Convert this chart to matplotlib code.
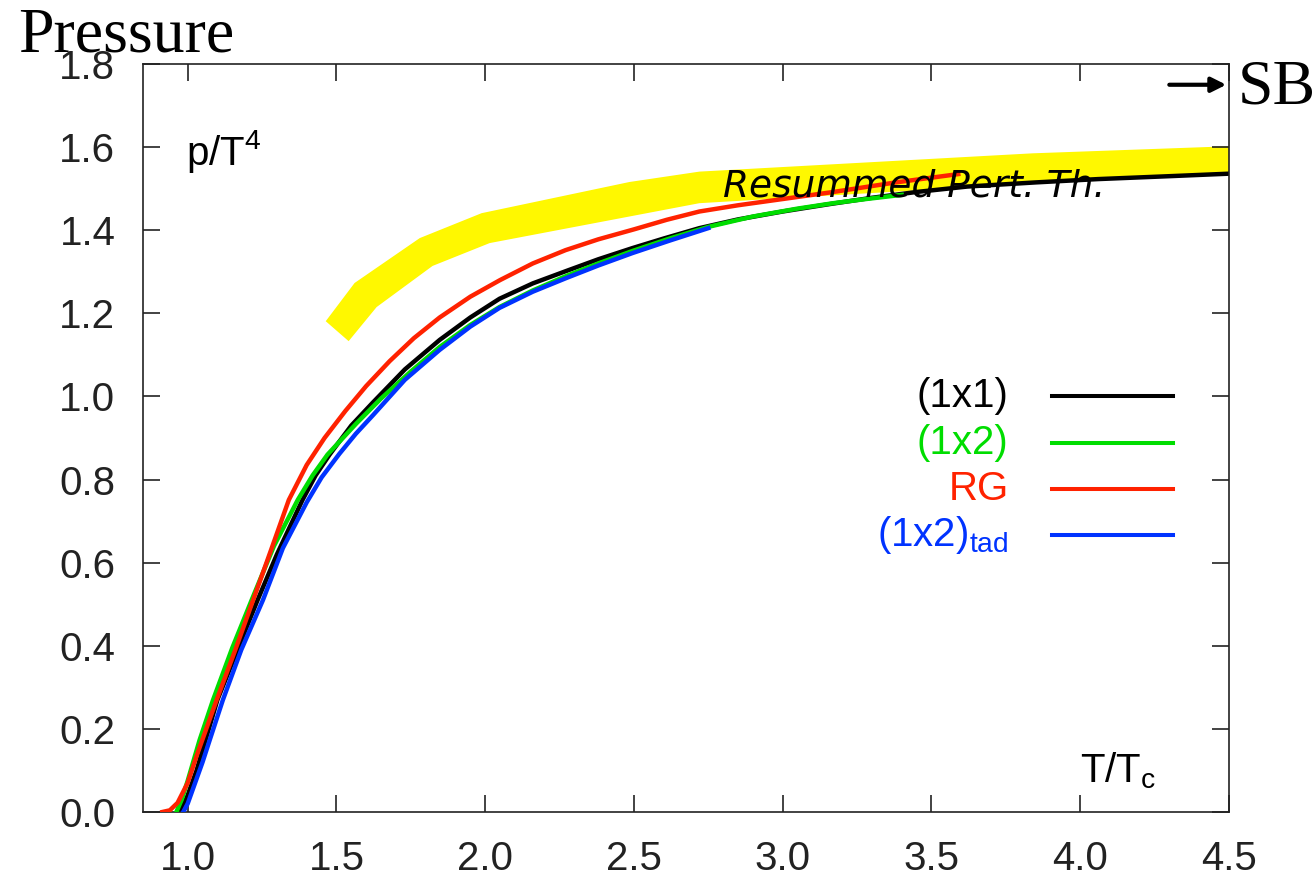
import numpy as np
import matplotlib
matplotlib.use('Agg')
import matplotlib.pyplot as plt

# (1x1)
t_11 = [0.975, 1.0, 1.03, 1.06, 1.10, 1.17, 1.235, 1.30, 1.386, 1.43, 1.477, 1.55, 1.622, 1.73,
        1.847, 1.95, 2.048, 2.16, 2.273, 2.38, 2.495, 2.6, 2.72, 2.85, 3.0, 3.15, 3.3, 3.45,
        3.62, 3.85, 4.06, 4.3, 4.5]
p_11 = [0.0, 0.04, 0.10, 0.173, 0.27, 0.395, 0.51, 0.62, 0.751, 0.81, 0.86, 0.93, 0.985, 1.065,
        1.136, 1.19, 1.235, 1.272, 1.302, 1.33, 1.357, 1.38, 1.405, 1.426, 1.445, 1.462, 1.478, 1.492,
        1.505, 1.515, 1.523, 1.53, 1.536]

# (1x2)
t_12 = [0.962, 0.98, 1.0, 1.04, 1.085, 1.15, 1.215, 1.29, 1.37, 1.42, 1.47, 1.567, 1.65, 1.75,
        1.847, 1.95, 2.048, 2.16, 2.273, 2.38, 2.495, 2.62, 2.75, 2.9, 3.05, 3.17, 3.28, 3.4]
p_12 = [0.0, 0.03, 0.075, 0.173, 0.269, 0.395, 0.51, 0.64, 0.751, 0.81, 0.86, 0.935, 0.995, 1.06,
        1.119, 1.172, 1.215, 1.255, 1.29, 1.32, 1.35, 1.38, 1.408, 1.433, 1.452, 1.465, 1.475, 1.485]

# RG
t_rg = [0.915, 0.94, 0.966, 1.0, 1.03, 1.097, 1.16, 1.22, 1.28, 1.34, 1.40, 1.46, 1.53, 1.60,
        1.679, 1.76, 1.847, 1.95, 2.05, 2.16, 2.27, 2.38, 2.5, 2.61, 2.72, 2.85, 3.0, 3.17, 3.38, 3.59]
p_rg = [0.0, 0.004, 0.022, 0.07, 0.135, 0.269, 0.39, 0.51, 0.63, 0.751, 0.835, 0.90, 0.965, 1.025,
        1.085, 1.14, 1.19, 1.24, 1.28, 1.32, 1.352, 1.378, 1.402, 1.425, 1.445, 1.46, 1.475, 1.492, 1.515, 1.535]

# (1x2)_tad
t_tad = [0.985, 1.0, 1.02, 1.05, 1.074, 1.118, 1.18, 1.253, 1.32, 1.40, 1.45, 1.51, 1.565, 1.623,
         1.73, 1.847, 1.95, 2.048, 2.16, 2.273, 2.38, 2.495, 2.62, 2.75]
p_tad = [0.0, 0.02, 0.06, 0.12, 0.173, 0.269, 0.39, 0.51, 0.635, 0.745, 0.805, 0.862, 0.91, 0.955,
         1.04, 1.112, 1.168, 1.213, 1.252, 1.285, 1.315, 1.345, 1.375, 1.405]

# resummed perturbation theory band
band_up_t = [1.464, 1.561, 1.78, 1.988, 2.485, 2.72, 3.84, 4.5]
band_up_p = [1.181, 1.273, 1.381, 1.441, 1.516, 1.541, 1.585, 1.602]
band_lo_t = [1.541, 1.635, 1.823, 2.015, 2.72, 4.5]
band_lo_p = [1.133, 1.215, 1.314, 1.369, 1.465, 1.54]

labels = ['(1x1)', '(1x2)', 'RG', r'(1x2)$_{\mathregular{tad}}$']
colors = ['black', '#00dd00', '#ff2200', '#0033ff']

plt.rcParams['font.family'] = ['Liberation Sans', 'DejaVu Sans']
plt.rcParams['mathtext.fontset'] = 'custom'
plt.rcParams['mathtext.rm'] = 'Liberation Sans'

fig = plt.figure(figsize=(13.16, 8.8), dpi=100)
ax = fig.add_axes([0.1087, 0.0773, 0.8252, 0.85])

ax.fill(np.concatenate([band_up_t, band_lo_t[::-1]]),
        np.concatenate([band_up_p, band_lo_p[::-1]]),
        color='#fff800', lw=0, zorder=1)

lw = 3.2
ax.plot(t_11, p_11, color=colors[0], lw=lw, zorder=2, solid_joinstyle='round')
ax.plot(t_12, p_12, color=colors[1], lw=lw, zorder=3, solid_joinstyle='round')
ax.plot(t_rg, p_rg, color=colors[2], lw=lw, zorder=4, solid_joinstyle='round')
ax.plot(t_tad, p_tad, color=colors[3], lw=lw, zorder=5, solid_joinstyle='round')

# legend, text on the left, right aligned
ys = [0.556, 0.493, 0.432, 0.370]
for lab, col, y in zip(labels, colors, ys):
    ax.text(0.797, y, lab, color=col, fontsize=29, ha='right', va='center',
            transform=ax.transAxes)
    ax.plot([0.837, 0.948], [y, y], color=col, lw=2.9, transform=ax.transAxes)

ax.set_xlim(0.85, 4.5)
ax.set_ylim(0.0, 1.8)
ax.set_xticks(np.arange(1.0, 4.51, 0.5))
ax.set_yticks(np.arange(0.0, 1.81, 0.2))
ax.xaxis.set_major_formatter(matplotlib.ticker.FormatStrFormatter('%.1f'))
ax.yaxis.set_major_formatter(matplotlib.ticker.FormatStrFormatter('%.1f'))
ax.tick_params(direction='in', length=12, width=1.2, labelsize=29,
               top=True, right=True, pad=20, colors='#222222')
for s in ax.spines.values():
    s.set_linewidth(1.2)
    s.set_color('#222222')

ax.text(0.995, 1.59, r'p/T$^{\mathregular{4}}$', fontsize=29, ha='left', va='center')
ax.text(4.0, 0.072, r'T/T$_{\mathregular{c}}$', fontsize=29, ha='left', va='baseline')

ax.text(2.8, 1.48, 'Resummed Pert. Th.', fontsize=27, style='italic',
        family='DejaVu Sans', ha='left', va='baseline', zorder=6)

ax.annotate('', xy=(4.5, 1.75), xytext=(4.29, 1.75),
            arrowprops=dict(arrowstyle='-|>', lw=3, color='black', mutation_scale=22),
            annotation_clip=False)

fig.text(18 / 1316, 1 - 52 / 880, 'Pressure', fontsize=46, family='Liberation Serif',
         ha='left', va='baseline')
fig.text(1238 / 1316, 1 - 103 / 880, 'SB', fontsize=46, family='Liberation Serif',
         ha='left', va='baseline')

plt.savefig('out.png', dpi=100)
